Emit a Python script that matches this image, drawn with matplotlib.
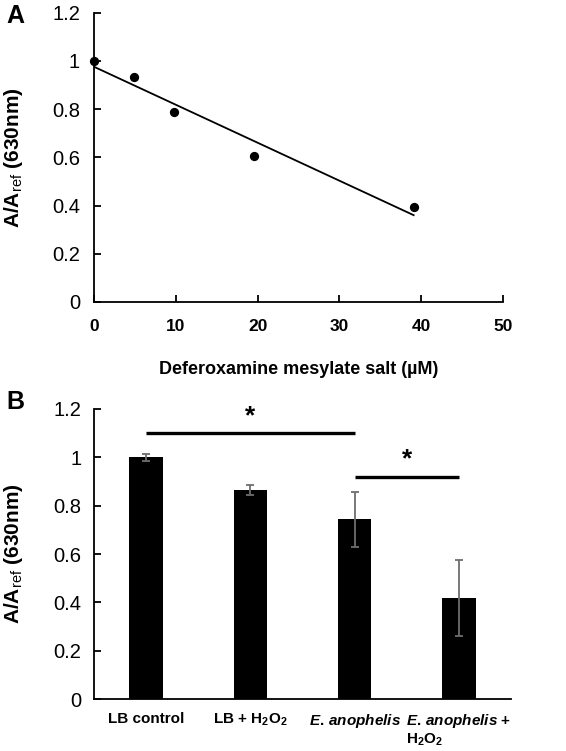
import matplotlib
matplotlib.use("Agg")
import matplotlib.pyplot as plt
import numpy as np

plt.rcParams['font.family'] = ['Liberation Sans', 'DejaVu Sans']
plt.rcParams['mathtext.fontset'] = 'custom'
plt.rcParams['mathtext.rm'] = 'Liberation Sans:bold'
plt.rcParams['mathtext.it'] = 'Liberation Sans:bold:italic'
plt.rcParams['mathtext.bf'] = 'Liberation Sans:bold'
plt.rcParams['mathtext.sf'] = 'Liberation Sans'

# Panel A data
conc = [0, 4.88, 9.77, 19.53, 39.06]
ratio_a = [1.0, 0.935, 0.79, 0.605, 0.395]
xticks_a = [0, 10, 20, 30, 40, 50]
yticks = [0, 0.2, 0.4, 0.6, 0.8, 1.0, 1.2]
ytick_labels = ['0', '0.2', '0.4', '0.6', '0.8', '1', '1.2']

# Panel B data
groups = ['LB control', 'LB + H$_2$O$_2$', '$\\it{E.\\,anophelis}$',
          '$\\it{E.\\,anophelis}$ +\nH$_2$O$_2$']
means_b = [1.0, 0.865, 0.743, 0.419]
errs_b = [0.014, 0.02, 0.112, 0.157]
sig_pairs = [(0, 2, 1.10), (2, 3, 0.92)]

fig = plt.figure(figsize=(5.66, 7.51), dpi=100)

ylab = 'A/A$_{\\mathsf{ref}}$ (630nm)'

# ---- Panel A ----
ax1 = fig.add_axes([0.166, 0.598, 0.723, 0.385])
ax1.scatter(conc, ratio_a, s=32, color='black', zorder=3, clip_on=False)
coef = np.polyfit(conc, ratio_a, 1)
xf = np.array([conc[0], conc[-1]])
ax1.plot(xf, np.polyval(coef, xf), color='black', lw=1.3)
ax1.set_xlim(0, 50)
ax1.set_ylim(0, 1.2)
ax1.set_xticks(xticks_a)
ax1.set_xticklabels([str(v) for v in xticks_a], fontsize=12.5, fontweight='bold')
ax1.set_yticks(yticks)
ax1.set_yticklabels(ytick_labels, fontsize=14.5)
ax1.tick_params(axis='y', direction='in', length=5, width=1.3, pad=10)
ax1.tick_params(axis='x', direction='in', length=5, width=1.3, pad=12)
ax1.set_xlabel('Deferoxamine mesylate salt (µM)', fontsize=13, fontweight='bold', labelpad=20)
ax1.set_ylabel(ylab, fontsize=15, fontweight='bold')
ax1.yaxis.set_label_coords(-0.168, 0.5)
for s in ['top', 'right']:
    ax1.spines[s].set_visible(False)
for s in ['left', 'bottom']:
    ax1.spines[s].set_linewidth(1.3)
fig.text(0.012, 0.995, 'A', fontsize=18, fontweight='bold', va='top', ha='left')

# ---- Panel B ----
ax2 = fig.add_axes([0.166, 0.0692, 0.737, 0.3862])
xpos = np.arange(len(groups))
ax2.bar(xpos, means_b, width=0.32, color='black', zorder=2)
ax2.errorbar(xpos, means_b, yerr=errs_b, fmt='none', ecolor='#6e6e6e',
             elinewidth=1.3, capsize=3, capthick=1.3, zorder=3)
for a, b, h in sig_pairs:
    ax2.plot([a, b], [h, h], color='black', lw=2.4, solid_capstyle='butt')
    ax2.text((a + b) / 2, h + 0.022, '*', ha='center', va='bottom',
             fontsize=19, fontweight='bold')
ax2.set_xlim(-0.5, 3.5)
ax2.set_ylim(0, 1.2)
ax2.set_xticks(xpos)
ax2.set_xticklabels(groups, fontsize=11, fontweight='bold', multialignment='left')
ax2.set_yticks(yticks)
ax2.set_yticklabels(ytick_labels, fontsize=14.5)
ax2.tick_params(axis='y', direction='in', length=5, width=1.3, pad=9)
ax2.tick_params(axis='x', length=0, pad=9)
ax2.set_ylabel(ylab, fontsize=15, fontweight='bold')
ax2.yaxis.set_label_coords(-0.165, 0.5)
for s in ['top', 'right']:
    ax2.spines[s].set_visible(False)
for s in ['left', 'bottom']:
    ax2.spines[s].set_linewidth(1.3)
fig.text(0.012, 0.481, 'B', fontsize=18, fontweight='bold', va='top', ha='left')

fig.savefig('out.png', dpi=100)
